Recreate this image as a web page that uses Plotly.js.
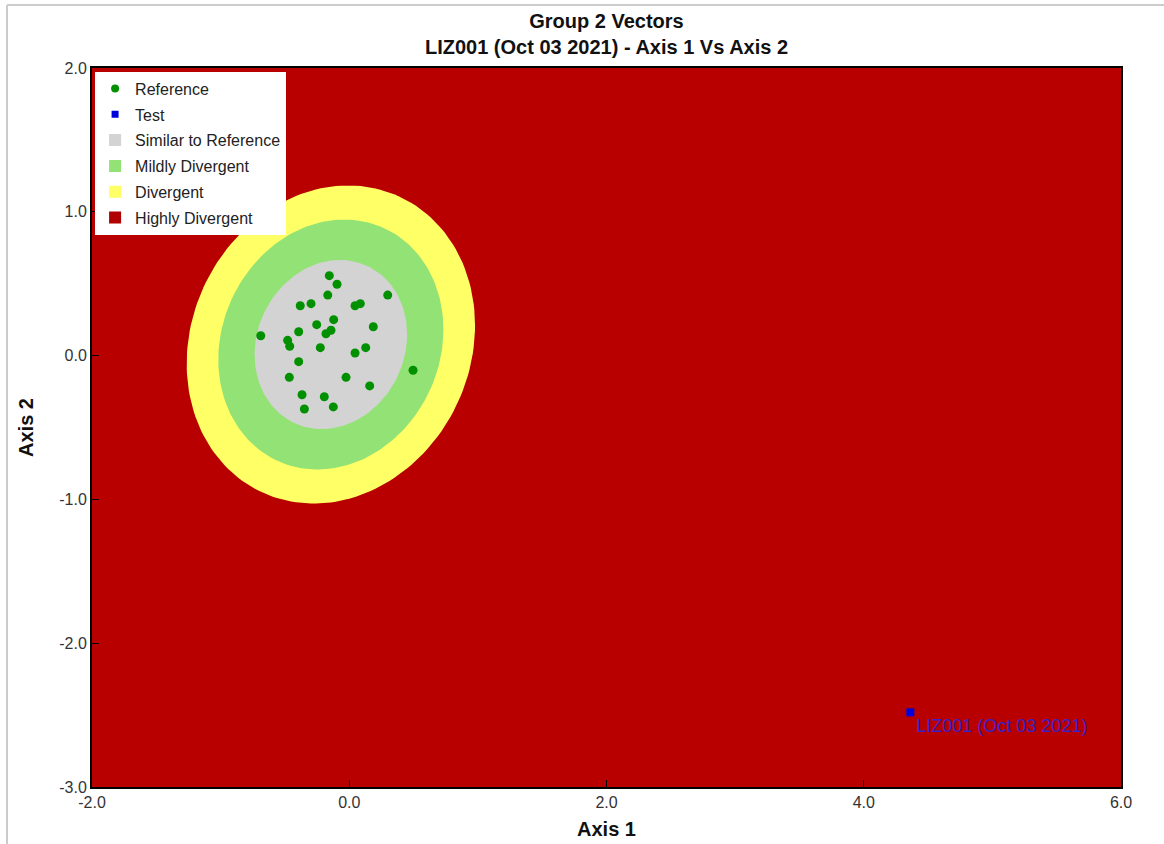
<!DOCTYPE html>
<html>
<head>
<meta charset="utf-8">
<script src="https://cdn.plot.ly/plotly-3.0.1.min.js"></script>
<style>html,body{margin:0;padding:0;background:#fff;}#chart{width:1164px;height:844px;}</style>
</head>
<body>
<div id="chart"></div>
<script>
// Reference observations (Axis 1, Axis 2)
const refX = [-0.155, -0.095, -0.167, 0.299, -0.381, -0.297, 0.045, 0.086, -0.121, -0.253,
              0.187, -0.393, -0.142, -0.181, -0.688, -0.479, -0.463, -0.225, 0.128, 0.045,
              -0.393, 0.496, -0.466, -0.025, 0.159, -0.367, -0.194, -0.349, -0.124];
const refY = [0.556, 0.496, 0.421, 0.421, 0.347, 0.361, 0.347, 0.361, 0.250, 0.215,
              0.201, 0.166, 0.176, 0.152, 0.138, 0.106, 0.065, 0.055, 0.055, 0.018,
              -0.042, -0.102, -0.151, -0.151, -0.211, -0.272, -0.286, -0.371, -0.357];
// Test site
const testX = [4.362];
const testY = [-2.481];
const testLabels = ["LIZ001 (Oct 03 2021)"];
// Probability ellipses (outer to inner): Divergent, Mildly Divergent, Similar to Reference
const bandNames = ["Divergent", "Mildly Divergent", "Similar to Reference"];
const bandColors = ["#ffff66", "#92e276", "#d3d3d3"];
const bandRadiusX = [1.121, 0.875, 0.593];
const bandRadiusY = [1.106, 0.869, 0.588];
const ellipseCenter = [-0.143, 0.077];
const ellipseCorr = 0.12;
// Legend order
const legendNames = ["Reference", "Test", "Similar to Reference", "Mildly Divergent", "Divergent", "Highly Divergent"];
const legendColors = ["#009000", "#0000dd", "#d3d3d3", "#92e276", "#ffff66", "#b00000"];
const legendSymbols = ["circle", "square", "square", "square", "square", "square"];
const legendSizes = [8, 7, 12, 12, 12, 12];
const bgRed = "#b80000";
const xTicks = [-2, 0, 2, 4, 6];
const xTickText = ["-2.0", "0.0", "2.0", "4.0", "6.0"];
const yTicks = [-3, -2, -1, 0, 1, 2];
const yTickText = ["-3.0", "-2.0", "-1.0", "0.0", "1.0", "2.0"];

function ellipse(rx, ry) {
  const xs = [], ys = [];
  const s = Math.sqrt(1 - ellipseCorr * ellipseCorr);
  for (let i = 0; i <= 180; i++) {
    const t = i / 180 * 2 * Math.PI;
    xs.push(ellipseCenter[0] + rx * Math.cos(t));
    ys.push(ellipseCenter[1] + ry * (ellipseCorr * Math.cos(t) + s * Math.sin(t)));
  }
  return {xs, ys};
}

const fontFam = 'Liberation Sans, Arial, sans-serif';
const traces = [];
bandNames.forEach((n, i) => {
  const e = ellipse(bandRadiusX[i], bandRadiusY[i]);
  traces.push({x: e.xs, y: e.ys, type: 'scatter', mode: 'lines', fill: 'toself',
    fillcolor: bandColors[i], line: {width: 0, color: bandColors[i]}, showlegend: false, hoverinfo: 'skip', name: n});
});
traces.push({x: refX, y: refY, type: 'scatter', mode: 'markers', showlegend: false,
  marker: {symbol: 'circle', size: 9, color: '#009000'}, name: 'Reference'});
traces.push({x: testX, y: testY, type: 'scatter', mode: 'markers+text', showlegend: false,
  text: testLabels, textposition: 'bottom right',
  textfont: {family: fontFam, size: 18, color: '#3a22c8'},
  marker: {symbol: 'square', size: 8, color: '#0000dd'}, name: 'Test'});
legendNames.forEach((n, i) => {
  traces.push({x: [null], y: [null], type: 'scatter', mode: 'markers', name: n,
    legendgroup: 'g' + i, legendrank: i + 1,
    marker: {symbol: legendSymbols[i], size: legendSizes[i], color: legendColors[i]}});
});

const layout = {
  width: 1164, height: 844,
  margin: {l: 92, r: 43, t: 68, b: 57},
  paper_bgcolor: '#ffffff',
  plot_bgcolor: bgRed,
  title: {text: '<b>Group 2 Vectors</b><br><b>LIZ001 (Oct 03 2021) - Axis 1 Vs Axis 2</b>',
    x: 0.5, xref: 'paper', yref: 'container', y: 0.967, yanchor: 'top',
    font: {family: fontFam, size: 20, color: '#111'}},
  xaxis: {range: [-2, 6], tickvals: xTicks, ticktext: xTickText, ticks: 'inside', ticklen: 7,
    tickcolor: '#000', showgrid: false, zeroline: false, showline: true, linecolor: '#000',
    linewidth: 2, mirror: true, tickfont: {family: fontFam, size: 16, color: '#333'},
    title: {text: '<b>Axis 1</b>', font: {family: fontFam, size: 20, color: '#111'}, standoff: 12}},
  yaxis: {range: [-3, 2], tickvals: yTicks, ticktext: yTickText, ticks: 'inside', ticklen: 7,
    tickcolor: '#000', showgrid: false, zeroline: false, showline: true, linecolor: '#000',
    linewidth: 2, mirror: true, tickfont: {family: fontFam, size: 16, color: '#333'},
    title: {text: '<b>Axis 2</b>', font: {family: fontFam, size: 20, color: '#111'}, standoff: 20}},
  legend: {x: 0.003, y: 0.995, xanchor: 'left', yanchor: 'top', bgcolor: '#ffffff',
    borderwidth: 0, font: {family: fontFam, size: 16, color: '#222'},
    traceorder: 'grouped', tracegroupgap: 2, itemwidth: 30},
  showlegend: true,
  shapes: [
    {type: 'line', xref: 'paper', yref: 'paper', x0: -0.0826, x1: -0.0826, y0: -0.08, y1: 1.0876,
      line: {color: '#cccccc', width: 2}},
    {type: 'line', xref: 'paper', yref: 'paper', x0: -0.0826, x1: 1.042, y0: 1.0876, y1: 1.0876,
      line: {color: '#cccccc', width: 2}}
  ]
};

Plotly.newPlot('chart', traces, layout, {displayModeBar: false, staticPlot: true});
</script>
</body>
</html>
